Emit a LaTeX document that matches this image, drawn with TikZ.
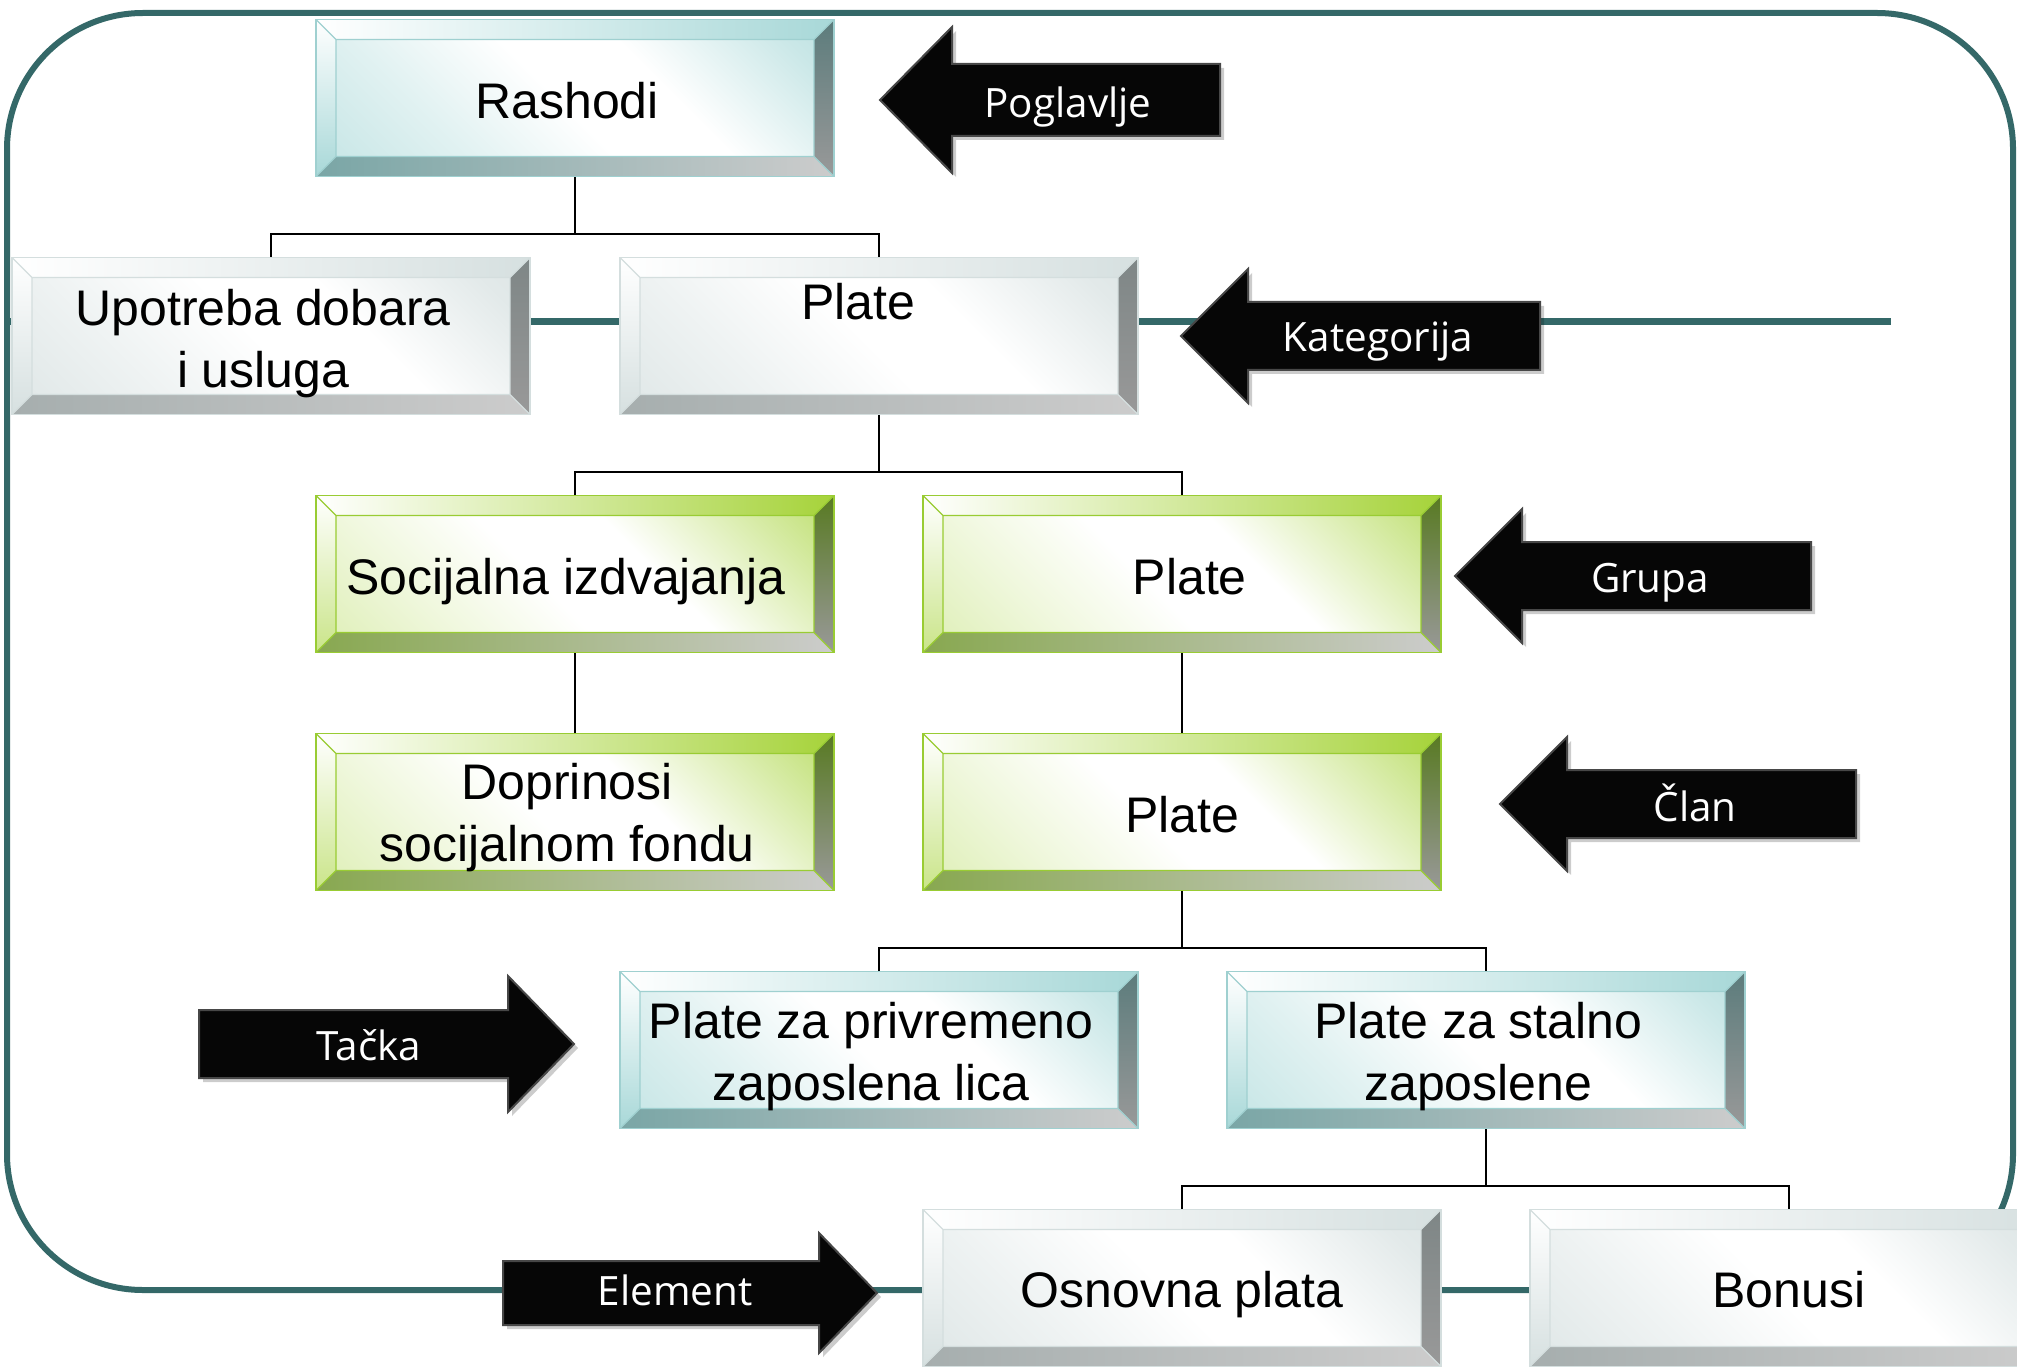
\documentclass[tikz,border=0pt]{standalone}
\usepackage{fontspec}
\setmainfont{Liberation Sans}
\newfontfamily\arrowfont{Open Sans}
\usetikzlibrary{calc,shadows}

\definecolor{framecol}{HTML}{346868}
\definecolor{arrowblack}{HTML}{060606}
% teal boxes
\definecolor{tealtint}{HTML}{A8D8D8}
\definecolor{tealedge}{HTML}{9FD0D0}
\definecolor{tealrt}{HTML}{5C7C7C}
\definecolor{tealbl}{HTML}{7AA6A6}
% green boxes
\definecolor{greentint}{HTML}{A6D33A}
\definecolor{greenedge}{HTML}{99CC33}
\definecolor{greenrt}{HTML}{587A22}
\definecolor{greenbl}{HTML}{88A850}
% white boxes
\definecolor{whitetint}{HTML}{D6E0E0}
\definecolor{whiteedge}{HTML}{D4DEDE}
\definecolor{whitert}{HTML}{7E8686}
\definecolor{whitebl}{HTML}{A6AEAE}
\definecolor{bevgray}{HTML}{999999}
\definecolor{bevlight}{HTML}{CCCCCC}

% face shadings: bottom (0bp) -> bottom-left corner, top (100bp) -> top-right corner after rotation
\pgfdeclareverticalshading{tealface}{100bp}{color(0bp)=(tealtint!85!white); color(30bp)=(tealtint!35!white); color(48bp)=(white); color(62bp)=(white); color(82bp)=(tealtint!60!white); color(100bp)=(tealtint)}
\pgfdeclareverticalshading{greenface}{100bp}{color(0bp)=(greentint!50!white); color(28bp)=(greentint!18!white); color(45bp)=(white); color(60bp)=(white); color(82bp)=(greentint!55!white); color(100bp)=(greentint)}
\pgfdeclareverticalshading{whiteface}{100bp}{color(0bp)=(whitetint); color(30bp)=(whitetint!40!white); color(48bp)=(white); color(62bp)=(white); color(82bp)=(whitetint!70!white); color(100bp)=(whitetint)}

\newcommand\bevelpaint[6]{%
 % #1 tint, #2 right-bevel top, #3 bottom-bevel left, #4 edge, #5 left-bevel bottom, #6 face shading
 \coordinate (pNW) at (path picture bounding box.north west);
 \coordinate (pSE) at (path picture bounding box.south east);
 \coordinate (pNE) at (pSE |- pNW);
 \coordinate (pSW) at (pNW |- pSE);
 \coordinate (iNW) at ([shift={(10pt,-10pt)}]pNW);
 \coordinate (iNE) at ([shift={(-10pt,-10pt)}]pNE);
 \coordinate (iSE) at ([shift={(-10pt,10pt)}]pSE);
 \coordinate (iSW) at ([shift={(10pt,10pt)}]pSW);
 \shade[shading=#6, shading angle=-45] (iNW) rectangle (iSE);
 \shade[left color=white, right color=#1] (pNW) -- (pNE) -- (iNE) -- (iNW) -- cycle;
 \shade[top color=white, bottom color=#5] (pNW) -- (iNW) -- (iSW) -- (pSW) -- cycle;
 \shade[top color=#2, bottom color=bevgray] (pNE) -- (pSE) -- (iSE) -- (iNE) -- cycle;
 \shade[left color=#3, right color=bevlight] (pSW) -- (iSW) -- (iSE) -- (pSE) -- cycle;
 \draw[color=#4, line width=0.6pt] (iNW) rectangle (iSE) (pNW) -- (iNW) (pNE) -- (iNE) (pSE) -- (iSE) (pSW) -- (iSW);
}

\tikzset{
 box/.style={minimum width=259pt, minimum height=78.5pt, inner sep=0pt, line width=0.8pt},
 tealbox/.style={box, draw=tealedge, path picture={\bevelpaint{tealtint}{tealrt}{tealbl}{tealedge}{tealtint}{tealface}}},
 greenbox/.style={box, draw=greenedge, path picture={\bevelpaint{greentint}{greenrt}{greenbl}{greenedge}{greentint!60!white}{greenface}}},
 whitebox/.style={box, draw=whiteedge, path picture={\bevelpaint{whitetint}{whitert}{whitebl}{whiteedge}{whitetint}{whiteface}}},
 boxtext/.style={inner sep=0pt, align=center, font=\fontsize{25}{31}\selectfont, text=black},
 conn/.style={draw=black, line width=1pt},
 blackarrow/.style={fill=arrowblack, draw=black!72, line width=1pt, line join=miter,
   drop shadow={shadow xshift=2pt, shadow yshift=-2pt, opacity=0.2, fill=black}},
 arrowtext/.style={text=white, font=\arrowfont\fontsize{20.2}{24}\selectfont, inner sep=0pt,
   text height=14.4pt, text depth=0pt},
 framestyle/.style={draw=framecol, line width=3pt},
}

\newcommand\leftarr[6]{% tip x, center y, head base x, right x, body half, head half
 \path[blackarrow] (#1,#2) -- (#3,#2-#6) -- (#3,#2-#5) -- (#4,#2-#5) -- (#4,#2+#5) -- (#3,#2+#5) -- (#3,#2+#6) -- cycle;}
\newcommand\rightarr[6]{% left x, center y, head base x, tip x, body half, head half
 \path[blackarrow] (#1,#2-#5) -- (#3,#2-#5) -- (#3,#2-#6) -- (#4,#2) -- (#3,#2+#6) -- (#3,#2+#5) -- (#1,#2+#5) -- cycle;}

\begin{document}
\begin{tikzpicture}[x=0.5pt, y=-0.5pt]
\useasboundingbox (0,0) rectangle (2017,1369);
\clip (0,0) rectangle (2017,1369);

% frame and level line
\draw[framestyle, rounded corners=68pt] (7,13) rectangle (2013,1290);
\draw[framestyle, line width=3.5pt] (7,322) -- (1891,322);

% boxes
\node[tealbox]  (rash)   at (575,98)   {};
\node[whitebox] (upo)    at (271,336)  {};
\node[whitebox] (plate2) at (879,336)  {};
\node[greenbox] (soc)    at (575,574)  {};
\node[greenbox] (plate3) at (1182,574) {};
\node[greenbox] (dop)    at (575,812)  {};
\node[greenbox] (plate4) at (1182,812) {};
\node[tealbox]  (priv)   at (879,1050) {};
\node[tealbox]  (stal)   at (1486,1050) {};
\node[whitebox] (osn)    at (1182,1288) {};
\node[whitebox] (bon)    at (1789,1288) {};

% box texts
\node[boxtext] (rash-t)   at ([shift={(-3.9pt,-1.3pt)}]rash.center)   {Rashodi};
\node[boxtext] (upo-t)    at ([shift={(-3.9pt,-3.9pt)}]upo.center)    {Upotreba dobara\\i usluga};
\node[boxtext] (plate2-t) at ([shift={(-10.3pt,17.3pt)}]plate2.center) {Plate};
\node[boxtext] (soc-t)    at ([shift={(-4.5pt,-3.9pt)}]soc.center)    {Socijalna izdvajanja};
\node[boxtext] (plate3-t) at ([shift={(3.9pt,-1.3pt)}]plate3.center)  {Plate};
\node[boxtext] (dop-t)    at ([shift={(-3.9pt,-2.9pt)}]dop.center)    {Doprinosi\\socijalnom fondu};
\node[boxtext] (plate4-t) at ([shift={(0pt,-1.3pt)}]plate4.center)    {Plate};
\node[boxtext] (priv-t)   at ([shift={(-3.9pt,-3.2pt)}]priv.center)   {Plate za privremeno\\zaposlena lica};
\node[boxtext] (stal-t)   at ([shift={(-3.9pt,-3.2pt)}]stal.center)   {Plate za stalno\\zaposlene};
\node[boxtext] (osn-t)    at ([shift={(0pt,-3.2pt)}]osn.center)       {Osnovna plata};
\node[boxtext] (bon-t)    at ([shift={(0pt,-0.6pt)}]bon.center)       {Bonusi};

% connectors
\draw[conn] (rash.south) -- ++(0,57) -| (upo.north);
\draw[conn] (rash.south) -- ++(0,57) -| (plate2.north);
\draw[conn] (plate2.south) -- ++(0,57) -| (soc.north);
\draw[conn] (plate2.south) -- ++(0,57) -| (plate3.north);
\draw[conn] (soc.south) -- (dop.north);
\draw[conn] (plate3.south) -- (plate4.north);
\draw[conn] (plate4.south) -- ++(0,57) -| (priv.north);
\draw[conn] (plate4.south) -- ++(0,57) -| (stal.north);
\draw[conn] (stal.south) -- ++(0,57) -| (osn.north);
\draw[conn] (stal.south) -- ++(0,57) -| (bon.north);

% level arrows
\leftarr{880}{100}{952}{1220}{36}{73}
\node[arrowtext] (pog) at (1068,103.5) {Poglavlje};
\leftarr{1181}{336}{1248}{1540}{34}{67}
\node[arrowtext] (kat) at (1378,337) {Kategorija};
\leftarr{1455}{576}{1522}{1811}{34}{67}
\node[arrowtext] (grp) at (1650,577.6) {Grupa};
\leftarr{1500}{804}{1567}{1856}{34}{67}
\node[arrowtext] (clan) at (1695,806.6) {Član};
\rightarr{199}{1044}{508}{574}{34}{68}
\node[arrowtext] (tacka) at (369,1045.8) {Tačka};
\rightarr{503}{1293}{819}{877}{32}{60}
\node[arrowtext] (elem) at (675,1291.5) {Element};
\end{tikzpicture}
\end{document}
